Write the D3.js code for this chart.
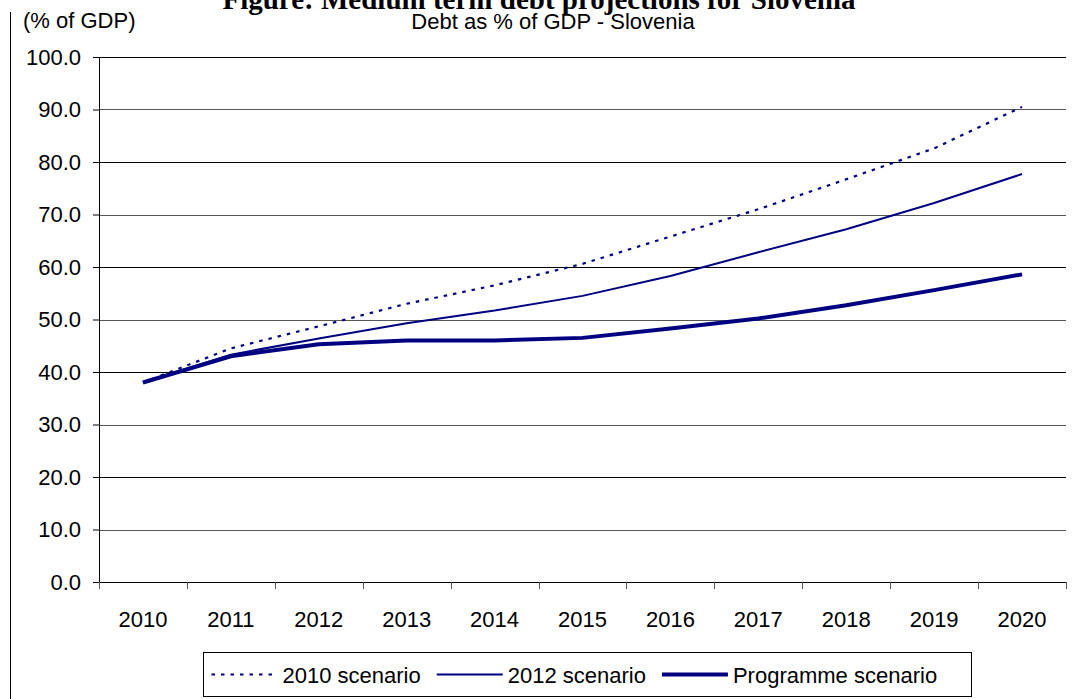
<!DOCTYPE html>
<html>
<head>
<meta charset="utf-8">
<script src="https://cdn.jsdelivr.net/npm/d3@7"></script>
<style>
  body { margin: 0; background: #fff; }
  svg { display: block; }
  text { font-family: "Liberation Sans", Arial, sans-serif; fill: #000; }
</style>
</head>
<body>
<svg id="chart" width="1077" height="699"></svg>
<script>
// data
const years = ["2010", "2011", "2012", "2013", "2014", "2015", "2016", "2017", "2018", "2019", "2020"];
const scenario2010 = [38.0, 44.5, 48.7, 53.0, 56.5, 60.6, 65.8, 71.0, 76.7, 82.6, 90.5];
const scenario2012 = [38.0, 43.3, 46.4, 49.3, 51.7, 54.5, 58.3, 62.8, 67.2, 72.2, 77.7];
const programme = [38.0, 43.0, 45.3, 46.0, 46.0, 46.5, 48.3, 50.2, 52.7, 55.6, 58.6];
const yTicks = [0, 10, 20, 30, 40, 50, 60, 70, 80, 90, 100];

const series = [
    { name: "2010 scenario", values: scenario2010, width: 2.2, dash: "3.5,6" },
    { name: "2012 scenario", values: scenario2012, width: 2, dash: null },
    { name: "Programme scenario", values: programme, width: 4, dash: null }
];

const navy = "#000080";
const margin = { top: 57, left: 99, right: 11, bottom: 117 };
const W = 1077, H = 699;
const width = W - margin.left - margin.right;
const height = H - margin.top - margin.bottom;

const svg = d3.select("#chart");

// outer left rule
svg.append("line")
    .attr("x1", 10.5).attr("x2", 10.5)
    .attr("y1", 12).attr("y2", H)
    .attr("stroke", "#000").attr("stroke-width", 1);

svg.append("text")
    .attr("x", 539).attr("y", 9)
    .attr("text-anchor", "middle")
    .style("font-family", "'Liberation Serif', 'Times New Roman', serif")
    .style("font-weight", "bold")
    .style("font-size", "29px")
    .text("Figure: Medium term debt projections for Slovenia");

svg.append("text")
    .attr("x", 553).attr("y", 29)
    .attr("text-anchor", "middle")
    .style("font-size", "22px")
    .text("Debt as % of GDP - Slovenia");

svg.append("text")
    .attr("x", 23).attr("y", 28)
    .style("font-size", "22px")
    .text("(% of GDP)");

const g = svg.append("g")
    .attr("transform", "translate(" + margin.left + "," + margin.top + ")");

const x = d3.scaleBand().domain(years).range([0, width]).padding(0);
const y = d3.scaleLinear().domain([0, 100]).range([height, 0]);

// gridlines
g.append("g")
    .selectAll("line")
    .data(yTicks.filter(d => d > 0))
    .enter()
    .append("line")
    .attr("x1", 0).attr("x2", width)
    .attr("y1", d => Math.round(y(d)) + 0.5)
    .attr("y2", d => Math.round(y(d)) + 0.5)
    .attr("stroke", d => (d / 10) % 2 === 0 ? "#000" : "#555")
    .attr("stroke-width", 1);

// y axis
const yAxis = g.append("g")
    .attr("font-size", null)
    .call(d3.axisLeft(y).tickValues(yTicks).tickFormat(d3.format(".1f")).tickSize(6).tickPadding(12));
yAxis.attr("font-size", "22px").attr("font-family", null);
yAxis.selectAll("text").style("font-size", "22px").attr("fill", "#000");
yAxis.selectAll("line, path").attr("stroke", "#000");

// x axis: ticks on band edges
const xAxis = g.append("g")
    .attr("transform", "translate(0," + height + ")");
xAxis.append("line")
    .attr("x1", 0).attr("x2", width)
    .attr("y1", 0.5).attr("y2", 0.5)
    .attr("stroke", "#000");
xAxis.selectAll(".tick")
    .data(years.concat(["end"]))
    .enter()
    .append("line")
    .attr("x1", (d, i) => Math.round(i < years.length ? x(d) : width) + 0.5)
    .attr("x2", (d, i) => Math.round(i < years.length ? x(d) : width) + 0.5)
    .attr("y1", 0).attr("y2", 7)
    .attr("stroke", "#555");
xAxis.selectAll(".lbl")
    .data(years)
    .enter()
    .append("text")
    .attr("x", d => x(d) + x.bandwidth() / 2)
    .attr("y", 45)
    .attr("text-anchor", "middle")
    .style("font-size", "22px")
    .text(d => d);

// lines
const line = d3.line()
    .x((d, i) => x(years[i]) + x.bandwidth() / 2)
    .y(d => y(d));

g.selectAll(".series")
    .data(series)
    .enter()
    .append("path")
    .attr("fill", "none")
    .attr("stroke", navy)
    .attr("stroke-width", d => d.width)
    .attr("stroke-dasharray", d => d.dash)
    .attr("stroke-linejoin", "round")
    .attr("d", d => line(d.values));

// legend
const legend = svg.append("g");
const box = { x: 203.5, y: 652.5, w: 768, h: 44 };
legend.append("rect")
    .attr("x", box.x).attr("y", box.y)
    .attr("width", box.w).attr("height", box.h)
    .attr("fill", "#fff").attr("stroke", "#000");

let cx = box.x + 8;
series.forEach(s => {
    legend.append("line")
        .attr("x1", cx).attr("x2", cx + 66)
        .attr("y1", box.y + box.h / 2).attr("y2", box.y + box.h / 2)
        .attr("stroke", navy)
        .attr("stroke-width", s.width)
        .attr("stroke-dasharray", s.dash);
    const t = legend.append("text")
        .attr("x", cx + 71)
        .attr("y", box.y + box.h / 2 + 8)
        .style("font-size", "22px")
        .text(s.name);
    cx += 71 + t.node().getComputedTextLength() + 16;
});
</script>
</body>
</html>
